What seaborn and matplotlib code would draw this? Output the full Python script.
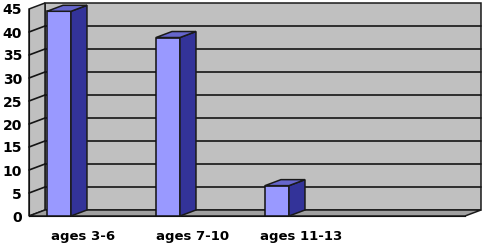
import matplotlib
matplotlib.use("Agg")
import matplotlib.pyplot as plt
from matplotlib.patches import Polygon
import seaborn as sns
import pandas as pd

sns.set_style("white")
plt.rcParams['font.family'] = ['DejaVu Sans']

# data
categories = ["ages 3-6", "ages 7-10", "ages 11-13"]
values = [44.5, 38.8, 6.6]
slots = categories + [" "]          # fourth, empty category slot
yticks = [0, 5, 10, 15, 20, 25, 30, 35, 40, 45]

df = pd.DataFrame({"group": categories, "value": values})

fig = plt.figure(figsize=(4.84, 2.47), dpi=100)
ax = fig.add_axes([29 / 484, 31 / 247, 436 / 484, 207 / 247])

wall = "#c0c0c0"
floor = "#a0a0a0"
front_c, side_c, top_c = "#9999ff", "#333399", "#6666cc"

# depth of the 3d look, in axes fraction
dx, dy = 16 / 436, 6 / 207

def poly(pts, fc, z, tr=None):
    p = Polygon(pts, closed=True, facecolor=fc, edgecolor="#1a1a1a", lw=1.1,
                transform=tr or ax.transAxes, clip_on=False, zorder=z)
    ax.add_patch(p)

# walls and floor
poly([(dx, dy), (1 + dx, dy), (1 + dx, 1 + dy), (dx, 1 + dy)], wall, 0.1)
poly([(0, 0), (dx, dy), (dx, 1 + dy), (0, 1)], wall, 0.2)
poly([(0, 0), (1, 0), (1 + dx, dy), (dx, dy)], floor, 0.3)
for v in yticks[1:-1]:
    f = v / 45
    ax.plot([dx, 1 + dx], [f + dy, f + dy], color="#151515", lw=1.2,
            transform=ax.transAxes, clip_on=False, zorder=0.4)
    ax.plot([0, dx], [f, f + dy], color="#151515", lw=1.2,
            transform=ax.transAxes, clip_on=False, zorder=0.4)

sns.barplot(data=df, x="group", y="value", order=slots, color=front_c,
            saturation=1, width=24 / 109, edgecolor="#111111", linewidth=1.1,
            ax=ax, zorder=3)

shift = 0.225
ax.set_xlim(-0.5 + shift, 3.5 + shift)
ax.set_ylim(0, 45)

ddx = dx * 4
ddy = dy * 45
for b in list(ax.patches):
    if b.get_zorder() != 3:
        continue
    x, w, h = b.get_x(), b.get_width(), b.get_height()
    if h != h or h == 0:
        continue
    poly([(x + w, 0), (x + w + ddx, ddy), (x + w + ddx, h + ddy), (x + w, h)],
         side_c, 3.1, ax.transData)
    poly([(x, h), (x + w, h), (x + w + ddx, h + ddy), (x + ddx, h + ddy)],
         top_c, 3.2, ax.transData)

# axis ticks and labels
ax.set_xticks([i + shift for i in range(4)])
ax.set_xticklabels(slots, fontsize=9.5, fontweight="bold", color="black")
ax.set_xticks([i + 0.5 + shift for i in range(4)], minor=True)
ax.tick_params(axis="x", which="major", length=0, pad=10)
ax.tick_params(axis="x", which="minor", length=4, width=1, color="#111111",
               direction="out")
ax.set_yticks(yticks)
ax.set_yticklabels([str(t) for t in yticks], fontsize=10, fontweight="bold",
                   color="black")
ax.tick_params(axis="y", length=3, width=1, color="#111111", pad=2,
               direction="out")
ax.set_xlabel("")
ax.set_ylabel("")

for s in ["top", "right"]:
    ax.spines[s].set_visible(False)
ax.spines["left"].set_color("#111111")
ax.spines["bottom"].set_color("#111111")
ax.patch.set_alpha(0)

fig.savefig("out.png", dpi=100)
